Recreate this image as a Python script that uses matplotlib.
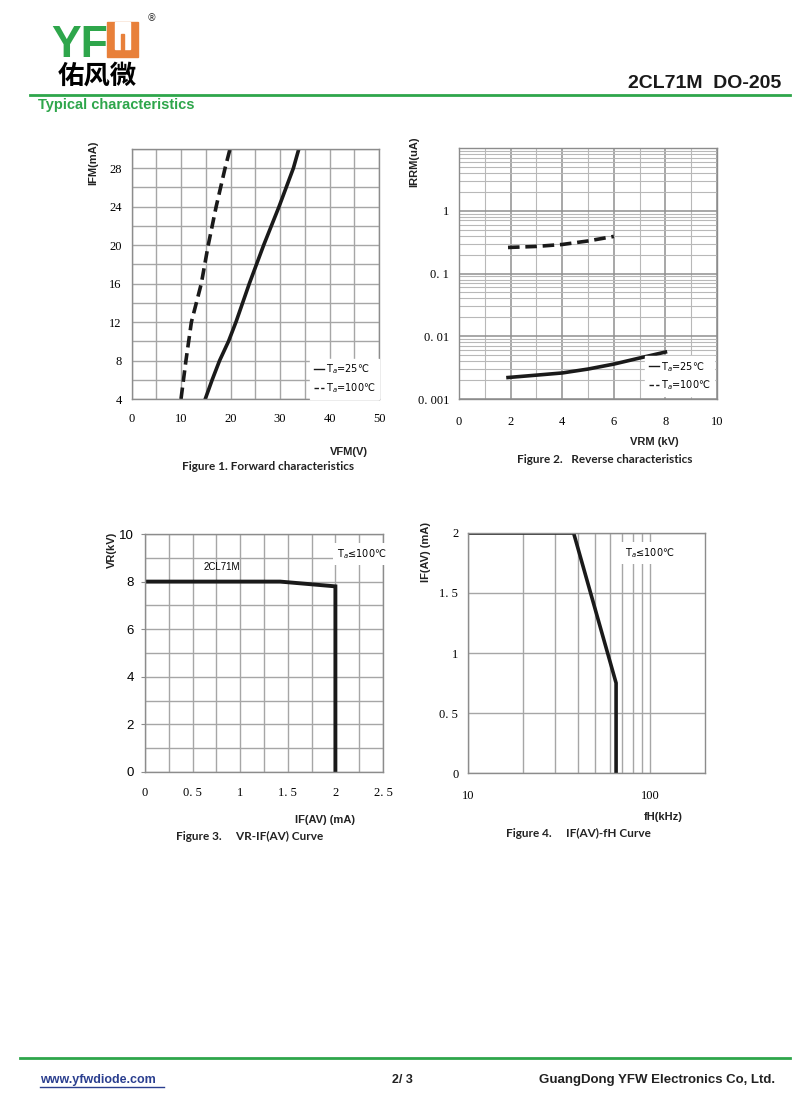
import matplotlib
matplotlib.use("Agg")
import matplotlib.pyplot as plt
from matplotlib.patches import Rectangle
from matplotlib.ticker import FixedLocator, NullFormatter

# ---- data ----
# Figure 1: forward characteristics (V, mA)
f1_v25 = [14.9, 16.3, 17.8, 19.6, 21.1, 23.8, 26.7, 29.8, 32.7, 33.8]
f1_i25 = [4, 6, 8, 10, 12, 16, 20, 24, 28, 30]
f1_v100 = [10.0, 11.0, 12.1, 14.1, 15.5, 17.1, 18.9, 19.9]
f1_i100 = [4, 8, 12, 16, 20, 24, 28, 30]

# Figure 2: reverse characteristics (kV, uA)
f2_v25 = [1.9, 3, 4, 5, 6, 7, 8]
f2_i25 = [0.0022, 0.0024, 0.0026, 0.0030, 0.0036, 0.0045, 0.0056]
f2_v100 = [1.9, 3, 4, 5, 6]
f2_i100 = [0.26, 0.27, 0.29, 0.33, 0.39]

# Figure 3: VR - IF(AV) (mA, kV)
f3_if = [0, 1.42, 2.0, 2.0]
f3_vr = [8, 8, 7.8, 0]

# Figure 4: IF(AV) - fH (kHz, mA)
f4_f = [10, 38, 65, 65]
f4_if = [2, 2, 0.75, 0]

f1_yticks = [4, 8, 12, 16, 20, 24, 28]
f1_xticks = [0, 10, 20, 30, 40, 50]
f2_yticks = [0.001, 0.01, 0.1, 1]
f2_ylabels = ["0. 001", "0. 01", "0. 1", "1"]
f3_xticks = [0, 0.5, 1, 1.5, 2, 2.5]
f3_xlabels = ["0", "0. 5", "1", "1. 5", "2", "2. 5"]
f4_yticks = [0, 0.5, 1, 1.5, 2]
f4_ylabels = ["0", "0. 5", "1", "1. 5", "2"]

W, H = 800, 1119
GREEN = "#2ea64b"
ORANGE = "#e8803a"
GRID = "#a6a6a6"
SERIF = "Liberation Serif"
SANS = "Liberation Sans"


def P(x, y):
    return x / W, 1 - y / H


def ax_box(l, t, r, b):
    return [l / W, 1 - b / H, (r - l) / W, (b - t) / H]


def style(ax):
    for s in ax.spines.values():
        s.set_color("#8c8c8c")
        s.set_linewidth(1)
    ax.tick_params(which="both", length=0, labelsize=9, pad=7)
    for lab in ax.get_xticklabels() + ax.get_yticklabels():
        lab.set_fontfamily(SERIF)


def white_legend(ax, pad):
    lg = ax.legend(loc="lower right", handlelength=1.0, handletextpad=0.2,
                   frameon=True, fancybox=False, borderaxespad=pad,
                   labelspacing=0.5, prop={"size": 7})
    for h in lg.legend_handles:
        h.set_linewidth(1)
    lg.get_frame().set_edgecolor("white")
    lg.get_frame().set_facecolor("white")
    lg.get_frame().set_alpha(1)


fig = plt.figure(figsize=(W / 100, H / 100), dpi=100)

# ---- header ----
fig.text(*P(51, 57), "YF", color=GREEN, fontsize=32, fontweight="bold",
         family=SANS, va="baseline")
# orange logo glyph
x0, y0, x1, y1 = 107, 22, 138, 57
fig.patches.append(Rectangle(P(x0, y1), (x1 - x0) / W, (y1 - y0) / H,
                             transform=fig.transFigure, color=ORANGE))
fig.patches.append(Rectangle(P(x0 + 8, y1 - 8), (x1 - x0 - 16) / W, (y1 - y0 - 8) / H,
                             transform=fig.transFigure, color="white"))
fig.patches.append(Rectangle(P(121, y1 - 7), 3 / W, 16 / H,
                             transform=fig.transFigure, color=ORANGE))
fig.text(*P(152, 18), "®", fontsize=7, ha="center", va="center", color="#333333")
fig.text(*P(97, 76), "佑风微", fontsize=19, fontweight="bold",
         family=["Noto Sans CJK SC", "DejaVu Sans"], ha="center", va="center")
fig.text(*P(781, 84), "2CL71M  DO-205", fontsize=14, fontweight="bold",
         family=SANS, ha="right", va="center", color="#1a1a1a")
fig.add_artist(plt.Line2D([30 / W, 790 / W], [1 - 95 / H] * 2, color=GREEN,
                          lw=2, transform=fig.transFigure))
fig.text(*P(38, 105), "Typical characteristics", fontsize=10.5, fontweight="bold",
         family=SANS, color=GREEN, va="center")

# ---- footer ----
fig.add_artist(plt.Line2D([20 / W, 790 / W], [1 - 1058 / H] * 2, color=GREEN,
                          lw=2, transform=fig.transFigure))
fig.text(*P(40, 1080), "www.yfwdiode.com", fontsize=9, fontweight="bold",
         family=SANS, color="#2b3f8f", va="center")
fig.add_artist(plt.Line2D([40 / W, 164 / W], [1 - 1087 / H] * 2, color="#2b3f8f",
                          lw=1, transform=fig.transFigure))
fig.text(*P(402, 1080), "2/ 3", fontsize=9, fontweight="bold", family=SANS,
         ha="center", va="center", color="#222222")
fig.text(*P(775, 1080), "GuangDong YFW Electronics Co, Ltd.", fontsize=9.5,
         fontweight="bold", family=SANS, ha="right", va="center", color="#222222")

lab_kw = dict(fontsize=8, fontweight="bold", family=SANS, color="#222222")
cap_kw = dict(fontsize=8.5, fontweight="bold", family="Lato", color="#222222",
              ha="center", va="center")

# ---- Figure 1 ----
ax1 = fig.add_axes(ax_box(131.5, 149, 379, 399))
ax1.plot(f1_v25, f1_i25, color="#1a1a1a", lw=2.6, label="T$_a$=25℃")
ax1.plot(f1_v100, f1_i100, color="#1a1a1a", lw=2.6, dashes=(3.2, 1.6),
         label="T$_a$=100℃")
ax1.set_xlim(0, 50)
ax1.set_ylim(4, 30)
ax1.set_xticks(f1_xticks)
ax1.set_xticks(range(0, 51, 5), minor=True)
ax1.set_yticks(f1_yticks)
ax1.set_yticks(range(4, 31, 2), minor=True)
ax1.grid(which="both", color=GRID, lw=1)
style(ax1)
ax1.tick_params(axis="x", pad=10)
white_legend(ax1, 0)
fig.text(*P(93, 163), "IFM(mA)", rotation=90, ha="center", va="center", **lab_kw)
fig.text(*P(349, 452), "VFM(V)", ha="center", va="center", **lab_kw)
fig.text(*P(268, 467), "Figure 1. Forward characteristics", **cap_kw)

# ---- Figure 2 ----
ax2 = fig.add_axes(ax_box(459, 148, 717, 399))
ax2.set_yscale("log")
ax2.plot(f2_v25, f2_i25, color="#1a1a1a", lw=2.6, label="T$_a$=25℃")
ax2.plot(f2_v100, f2_i100, color="#1a1a1a", lw=2.6, dashes=(3.2, 1.6),
         label="T$_a$=100℃")
ax2.set_xlim(0, 10)
ax2.set_ylim(0.001, 10)
ax2.set_xticks(range(0, 11, 2))
ax2.set_xticks(range(1, 10, 2), minor=True)
ax2.yaxis.set_major_locator(FixedLocator(f2_yticks + [10]))
ax2.set_yticklabels(f2_ylabels + [""])
minor = [m * 10.0 ** e for e in range(-3, 1) for m in range(2, 10)]
ax2.yaxis.set_minor_locator(FixedLocator(minor))
ax2.yaxis.set_minor_formatter(NullFormatter())
ax2.grid(which="major", color="#8f8f8f", lw=1.1)
ax2.grid(which="minor", color="#b8b8b8", lw=0.8)
style(ax2)
ax2.tick_params(axis="x", pad=12)
white_legend(ax2, 0.3)
fig.text(*P(414, 162), "IRRM(uA)", rotation=90, ha="center", va="center", **lab_kw)
fig.text(*P(654, 442), "VRM (kV)", ha="center", va="center", **lab_kw)
fig.text(*P(605, 459), "Figure 2.   Reverse characteristics", **cap_kw)

# ---- Figure 3 ----
ax3 = fig.add_axes(ax_box(145, 534, 383, 772))
ax3.plot(f3_if, f3_vr, color="#1a1a1a", lw=2.8, solid_joinstyle="miter")
ax3.set_xlim(0, 2.5)
ax3.set_ylim(0, 10)
ax3.set_xticks(f3_xticks)
ax3.set_xticklabels(f3_xlabels)
ax3.set_xticks([i * 0.25 for i in range(11)], minor=True)
ax3.set_yticks(range(0, 11, 2))
ax3.set_yticks(range(0, 11), minor=True)
ax3.grid(which="both", color=GRID, lw=1)
style(ax3)
ax3.tick_params(axis="x", pad=11)
ax3.tick_params(axis="y", which="major", length=3, color="#8c8c8c", pad=5)
for lab in ax3.get_yticklabels():
    lab.set_fontfamily(SANS)
    lab.set_fontsize(9.5)
ax3.text(0.81, 8.6, "2CL71M", fontsize=7, family=SANS, ha="center", va="center")
ax3.text(2.02, 9.15, "T$_a$≤100℃", fontsize=7, family=["DejaVu Sans"],
         ha="left", va="center",
         bbox=dict(facecolor="white", edgecolor="none", pad=3))
fig.text(*P(112, 550), "VR(kV)", rotation=90, ha="center", va="center", **lab_kw)
fig.text(*P(325, 820), "IF(AV) (mA)", ha="center", va="center", **lab_kw)
fig.text(*P(250, 836), "Figure 3.     VR-IF(AV) Curve", **cap_kw)

# ---- Figure 4 ----
ax4 = fig.add_axes(ax_box(468, 533, 705, 773))
ax4.set_xscale("log")
ax4.plot(f4_f, f4_if, color="#1a1a1a", lw=2.6, solid_joinstyle="miter")
ax4.set_xlim(10, 200)
ax4.set_ylim(0, 2)
ax4.xaxis.set_major_locator(FixedLocator([10, 100]))
ax4.set_xticklabels(["10", "100"])
ax4.xaxis.set_minor_locator(FixedLocator(list(range(20, 100, 10))))
ax4.xaxis.set_minor_formatter(NullFormatter())
ax4.set_yticks(f4_yticks)
ax4.set_yticklabels(f4_ylabels)
ax4.grid(which="both", color=GRID, lw=1)
style(ax4)
ax4.tick_params(axis="x", pad=12)
ax4.text(100, 1.83, "T$_a$≤100℃", fontsize=7, family=["DejaVu Sans"],
         ha="center", va="center",
         bbox=dict(facecolor="white", edgecolor="none", pad=3))
fig.text(*P(426, 552), "IF(AV) (mA)", rotation=90, ha="center", va="center", **lab_kw)
fig.text(*P(663, 817), "fH(kHz)", ha="center", va="center", **lab_kw)
fig.text(*P(578, 833), "Figure 4.     IF(AV)-fH Curve", **cap_kw)

fig.savefig("out.png", dpi=100)
